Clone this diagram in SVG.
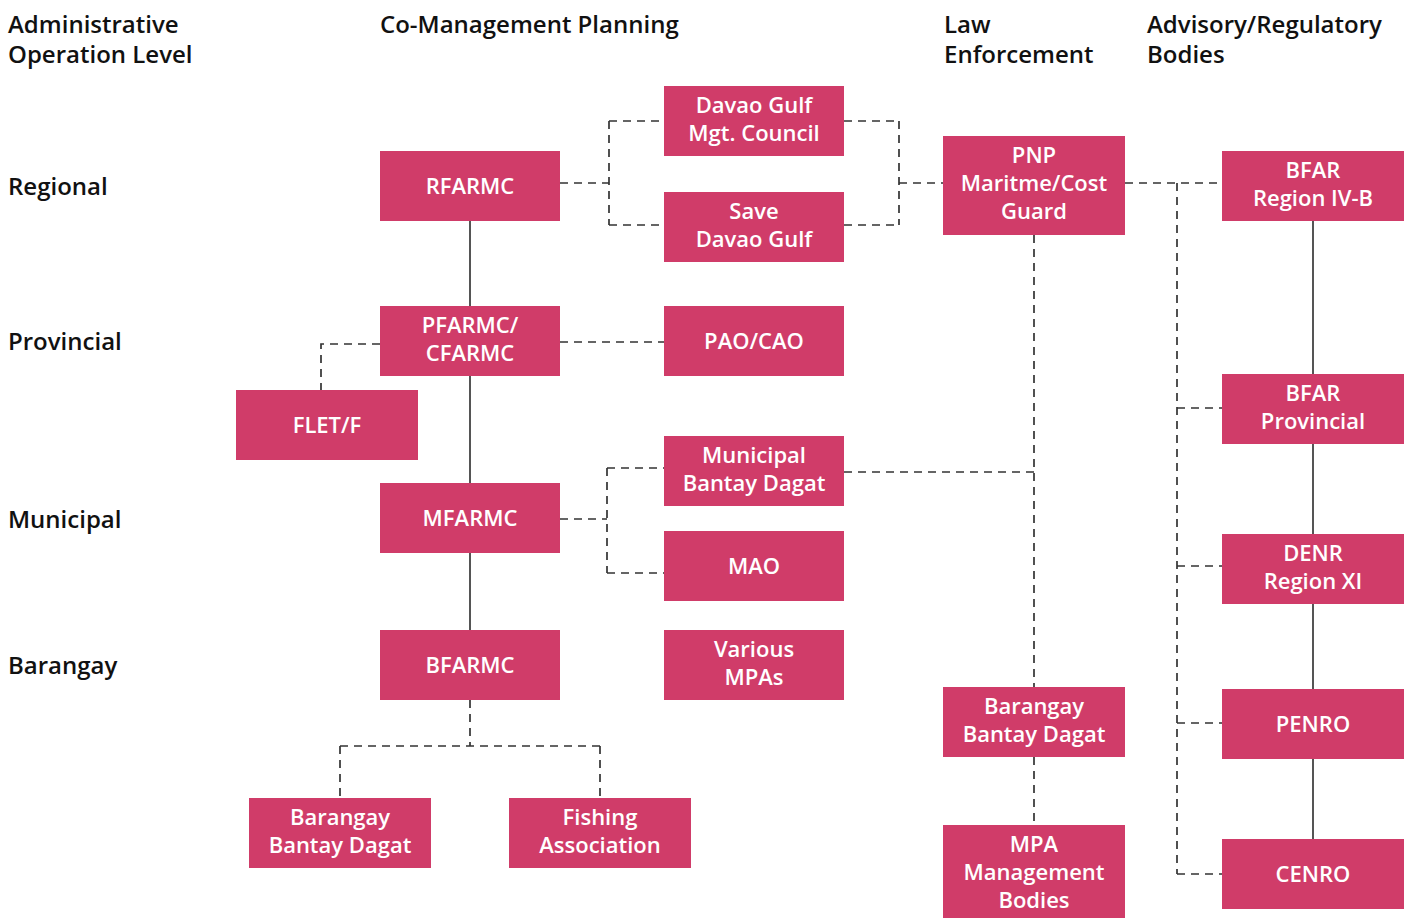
<svg xmlns="http://www.w3.org/2000/svg" width="1408" height="918" viewBox="0 0 1408 918">
<style>
.bx{fill:#d03c69}
.t{font-family:"Open Sans","Liberation Sans",sans-serif;font-weight:600;font-size:22px;fill:#fff;text-anchor:middle}
.h{font-family:"Open Sans","Liberation Sans",sans-serif;font-weight:600;font-size:24px;fill:#111}
.s{fill:none;stroke:#555;stroke-width:2}
.d{fill:none;stroke:#333;stroke-width:1.7;stroke-dasharray:8 6}
</style>
<rect width="1408" height="918" fill="#fff"/>
<g id="headers">
<text class="h" x="8" y="33">Administrative</text>
<text class="h" x="8" y="63">Operation Level</text>
<text class="h" x="380" y="33">Co-Management Planning</text>
<text class="h" x="944" y="33">Law</text>
<text class="h" x="944" y="63">Enforcement</text>
<text class="h" x="1147" y="33">Advisory/Regulatory</text>
<text class="h" x="1147" y="63">Bodies</text>
<text class="h" x="8" y="195">Regional</text>
<text class="h" x="8" y="350">Provincial</text>
<text class="h" x="8" y="528">Municipal</text>
<text class="h" x="8" y="674">Barangay</text>
</g>
<g id="connectors">
<path class="s" d="M470 221V306M470 376V483M470 553V630"/>
<path class="s" d="M1313 221V374M1313 444V534M1313 604V689M1313 759V839"/>
<path class="d" d="M470 700V746M340 746H600M340 746V798M600 746V798"/>
<path class="d" d="M560 183H609M609 121V225M609 121H664M609 225H664"/>
<path class="d" d="M844 121H899M844 225H899M899 121V225M899 183H943"/>
<path class="d" d="M560 342H664"/>
<path class="d" d="M380 344H321V390"/>
<path class="d" d="M560 519H607M607 468V573M607 468H664M607 573H664"/>
<path class="d" d="M844 472H1034"/>
<path class="d" d="M1034 235V687M1034 757V825"/>
<path class="d" d="M1125 183H1222M1177 183V874M1177 408H1222M1177 566H1222M1177 723H1222M1177 874H1222"/>
</g>
<g id="davao-council"><rect class="bx" x="664" y="86" width="180" height="70"/><text class="t" x="754" y="113">Davao Gulf</text><text class="t" x="754" y="141">Mgt. Council</text></g>
<g id="save-davao"><rect class="bx" x="664" y="192" width="180" height="70"/><text class="t" x="754" y="219">Save</text><text class="t" x="754" y="247">Davao Gulf</text></g>
<g id="rfarmc"><rect class="bx" x="380" y="151" width="180" height="70"/><text class="t" x="470" y="194">RFARMC</text></g>
<g id="pnp"><rect class="bx" x="943" y="136" width="182" height="99"/><text class="t" x="1034" y="163">PNP</text><text class="t" x="1034" y="191">Maritme/Cost</text><text class="t" x="1034" y="219">Guard</text></g>
<g id="bfar-region"><rect class="bx" x="1222" y="151" width="182" height="70"/><text class="t" x="1313" y="178">BFAR</text><text class="t" x="1313" y="206">Region IV-B</text></g>
<g id="pfarmc"><rect class="bx" x="380" y="306" width="180" height="70"/><text class="t" x="470" y="333">PFARMC/</text><text class="t" x="470" y="361">CFARMC</text></g>
<g id="pao"><rect class="bx" x="664" y="306" width="180" height="70"/><text class="t" x="754" y="349">PAO/CAO</text></g>
<g id="flet"><rect class="bx" x="236" y="390" width="182" height="70"/><text class="t" x="327" y="433">FLET/F</text></g>
<g id="bfar-prov"><rect class="bx" x="1222" y="374" width="182" height="70"/><text class="t" x="1313" y="401">BFAR</text><text class="t" x="1313" y="429">Provincial</text></g>
<g id="mun-bantay"><rect class="bx" x="664" y="436" width="180" height="70"/><text class="t" x="754" y="463">Municipal</text><text class="t" x="754" y="491">Bantay Dagat</text></g>
<g id="mfarmc"><rect class="bx" x="380" y="483" width="180" height="70"/><text class="t" x="470" y="526">MFARMC</text></g>
<g id="mao"><rect class="bx" x="664" y="531" width="180" height="70"/><text class="t" x="754" y="574">MAO</text></g>
<g id="denr"><rect class="bx" x="1222" y="534" width="182" height="70"/><text class="t" x="1313" y="561">DENR</text><text class="t" x="1313" y="589">Region XI</text></g>
<g id="bfarmc"><rect class="bx" x="380" y="630" width="180" height="70"/><text class="t" x="470" y="673">BFARMC</text></g>
<g id="mpas"><rect class="bx" x="664" y="630" width="180" height="70"/><text class="t" x="754" y="657">Various</text><text class="t" x="754" y="685">MPAs</text></g>
<g id="brgy-bantay-law"><rect class="bx" x="943" y="687" width="182" height="70"/><text class="t" x="1034" y="714">Barangay</text><text class="t" x="1034" y="742">Bantay Dagat</text></g>
<g id="penro"><rect class="bx" x="1222" y="689" width="182" height="70"/><text class="t" x="1313" y="732">PENRO</text></g>
<g id="brgy-bantay"><rect class="bx" x="249" y="798" width="182" height="70"/><text class="t" x="340" y="825">Barangay</text><text class="t" x="340" y="853">Bantay Dagat</text></g>
<g id="fishing"><rect class="bx" x="509" y="798" width="182" height="70"/><text class="t" x="600" y="825">Fishing</text><text class="t" x="600" y="853">Association</text></g>
<g id="mpa-bodies"><rect class="bx" x="943" y="825" width="182" height="93"/><text class="t" x="1034" y="852">MPA</text><text class="t" x="1034" y="880">Management</text><text class="t" x="1034" y="908">Bodies</text></g>
<g id="cenro"><rect class="bx" x="1222" y="839" width="182" height="70"/><text class="t" x="1313" y="882">CENRO</text></g>
</svg>
